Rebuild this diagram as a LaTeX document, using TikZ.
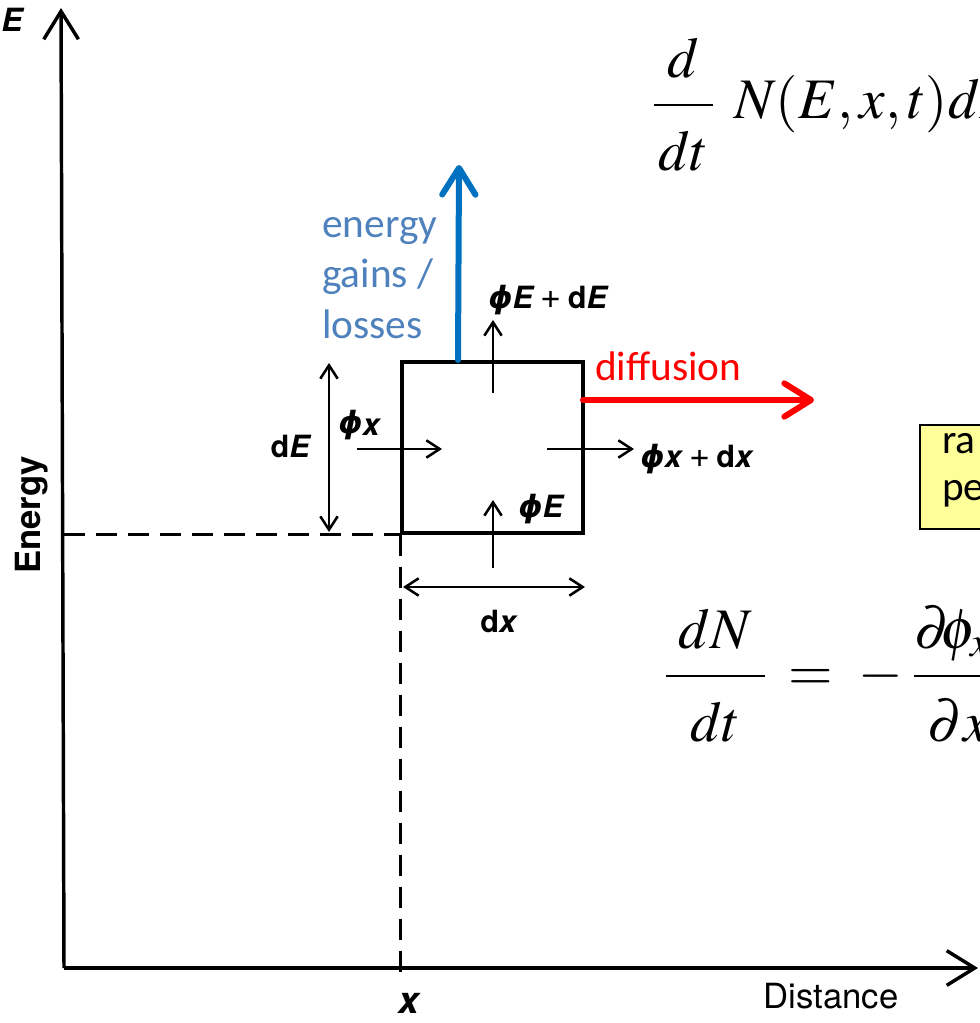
\documentclass[tikz,border=0pt]{standalone}
\usepackage{amsmath}
\usepackage{mathptmx}
\usepackage[no-math]{fontspec}
\setmainfont{TeX Gyre Heros}
\newfontfamily\carl{Carlito}
\newfontfamily\dvs{DejaVu Sans}
\newcommand{\fphi}{{\dvs\bfseries\itshape ϕ}}
\newcommand{\fplus}{{\mdseries\fontsize{27}{27}\selectfont\,+\,}}
\newcommand{\numstrut}{\rule[-0.34em]{0pt}{0pt}}
\newcommand{\denstrut}{\rule{0pt}{1.0em}}
\usetikzlibrary{arrows.meta}
\definecolor{gblue}{RGB}{0,112,192}
\definecolor{tblue}{RGB}{79,129,189}
\definecolor{yel}{RGB}{255,255,153}
\begin{document}
\begin{tikzpicture}[x=0.75pt,y=-0.75pt,
  axis/.style={line width=2.6pt,-{Straight Barb[length=21pt,width=26pt]}},
  flux/.style={line width=1.9pt,-{Straight Barb[length=10pt,width=13pt]}},
  dimarrow/.style={line width=1.9pt,{Straight Barb[length=10pt,width=13pt]}-{Straight Barb[length=10pt,width=13pt]}},
  dsh/.style={line width=2.2pt,dash pattern=on 16pt off 8pt},
  cellbox/.style={draw,line width=2.6pt,minimum width=135.75pt,minimum height=128.25pt,inner sep=0pt},
  lbl/.style={font=\bfseries\fontsize{23}{26}\selectfont,inner sep=0pt},
  bigarrow/.style={line width=4.5pt,line cap=round,-{Straight Barb[length=20pt,width=25pt,round]}},
  ctext/.style={font=\carl\fontsize{31}{37}\selectfont,inner sep=0pt},
  eq/.style={font=\fontsize{43}{50}\selectfont,inner sep=0pt}]
\useasboundingbox (0,0) rectangle (980,1023);
\begin{scope}
\clip (0,0) rectangle (980,1023);
% axes
\coordinate (O) at (64,968);
\coordinate (ytip) at (61,8);
\coordinate (xtip) at (978,968);
\draw[axis] (O) -- (ytip);
\draw[axis] (O) -- (xtip);
\node[lbl,font=\bfseries\itshape\fontsize{24}{26}\selectfont,anchor=base] (Elab) at (12,32) {E};
\node[lbl,font=\bfseries\fontsize{26}{28}\selectfont,rotate=90] (energy) at (32,515) {Energy};
\node[lbl,font=\fontsize{26}{28}\selectfont,anchor=base] (dist) at (831,1008) {Distance};
\node[lbl,font=\bfseries\itshape\fontsize{28}{30}\selectfont,anchor=base] (xlab) at (409,1013) {x};
% cell
\node[cellbox] (cell) at (492.5,447.5) {};
\draw[dsh] (O |- cell.south west) -- (cell.south west);
\draw[dsh] (cell.south west) -- ([yshift=-8pt]cell.south west |- O);
% dimensions
\coordinate (dEb) at (329,532);
\coordinate (dEt) at (329,363);
\draw[dimarrow] (dEb) -- (dEt);
\node[lbl] (dE) at (291,446) {d\textit{E}};
\coordinate (dxl) at (403,587);
\coordinate (dxr) at (585,587);
\draw[dimarrow] (dxl) -- (dxr);
\node[lbl] (dx) at (499,621) {d\textit{x}};
% fluxes
\coordinate (fxa) at (357,449);
\coordinate (fxb) at (442,449);
\draw[flux] (fxa) -- (fxb);
\node[lbl,anchor=base west] (phix) at (338,433) {\fphi\raisebox{-2pt}{\textit{x}}};
\coordinate (fxc) at (547,449);
\coordinate (fxd) at (634,449);
\draw[flux] (fxc) -- (fxd);
\node[lbl,anchor=base west] (phixdx) at (640,467) {\fphi\textit{x}\fplus d\textit{x}};
\coordinate (fEa) at (493,568);
\coordinate (fEb) at (493,500);
\draw[flux] (fEa) -- (fEb);
\node[lbl,anchor=base west] (phiE) at (518,517) {\fphi\textit{E}};
\coordinate (fEc) at (493,393);
\coordinate (fEd) at (493,320);
\draw[flux] (fEc) -- (fEd);
\node[lbl,anchor=base west] (phiEdE) at (488,309) {\fphi\textit{E}\fplus d\textit{E}};
% blue arrow
\coordinate (gstart) at (458,360);
\coordinate (gtip) at (459,165);
\draw[bigarrow,gblue] (gstart) -- (gtip);
\node[ctext,text=tblue,anchor=base west] (en1) at (322,238) {energy};
\node[ctext,text=tblue,anchor=base west] (en2) at (322,288) {gains /};
\node[ctext,text=tblue,anchor=base west] (en3) at (322,338) {losses};
% red arrow
\coordinate (dstart) at (583,400);
\coordinate (dtip) at (814,400);
\draw[bigarrow,red] (dstart) -- (dtip);
\node[ctext,text=red,anchor=base west] (diff) at (595,380) {diffusion};
% yellow box
\node[draw,line width=1.5pt,fill=yel,anchor=north west,minimum width=90pt,minimum height=78pt,inner sep=0pt] (rate) at (919,424) {};
\node[ctext,anchor=base west] (ra) at (942,453) {ra};
\node[ctext,anchor=base west] (pe) at (942,500) {pe};
% equations
\node[eq,anchor=base west] (eq1) at (652,119) {$\dfrac{d\numstrut}{\mskip1.5mu\denstrut dt\mskip1.5mu}\mskip6mu N(E,x,t)dE$};
\node[eq,anchor=base west] (eq2) at (664,690) {$\dfrac{\;dN\numstrut\;}{\denstrut dt}\mskip3mu=\mskip4mu-\mskip3mu\dfrac{\partial\mskip-3mu\phi\!_x\numstrut\mskip4mu}{\denstrut\partial x}$};
\end{scope}
\end{tikzpicture}
\end{document}
